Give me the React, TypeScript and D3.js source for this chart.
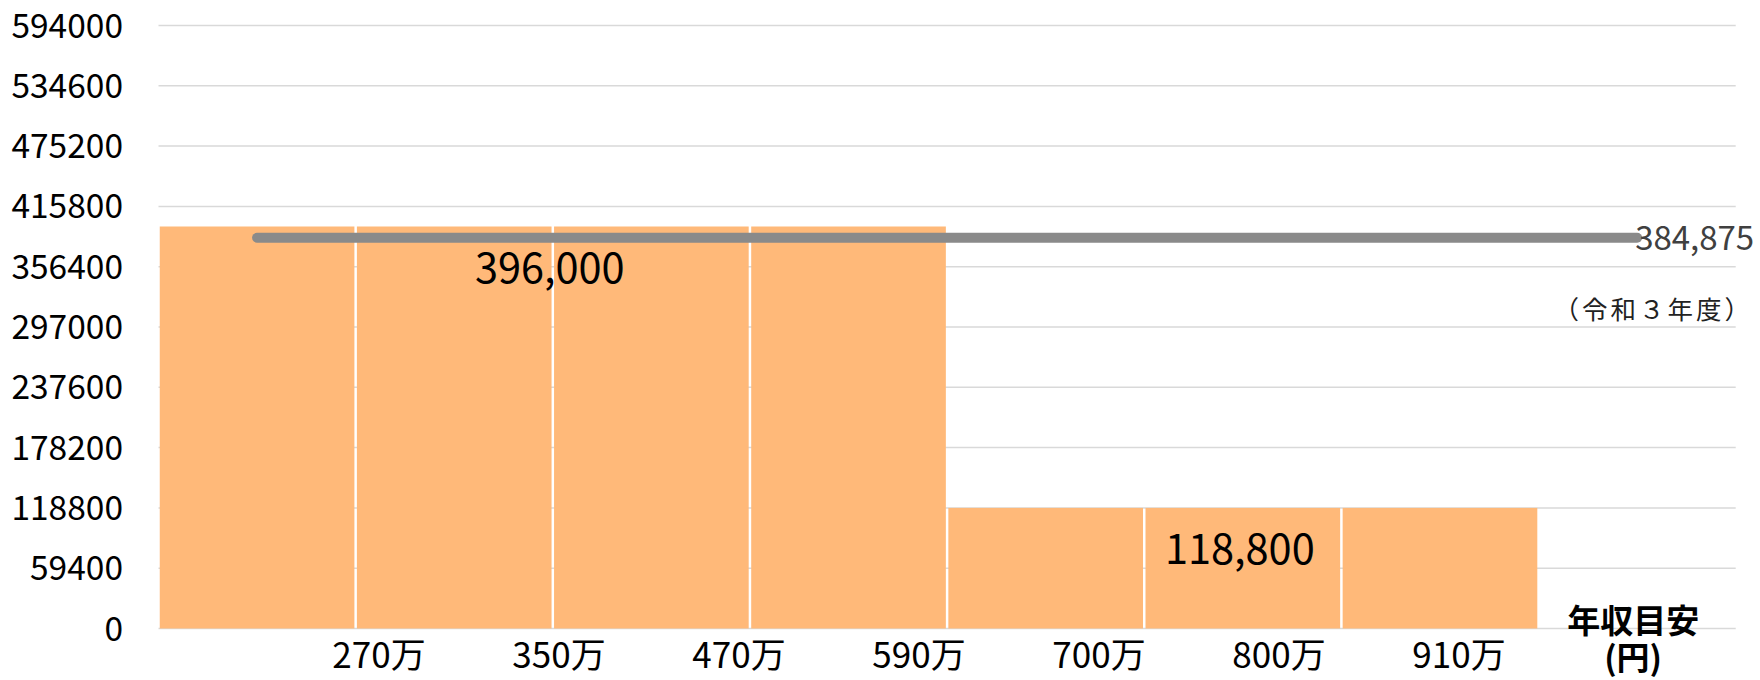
import React from 'react';
import * as d3 from 'd3';

// income brackets (bars) and the premium for each
const brackets = ['〜270万', '270〜350万', '350〜470万', '470〜590万', '590〜700万', '700〜800万', '800〜910万'];
const premiums = [396000, 396000, 396000, 396000, 118800, 118800, 118800];
const axisSlot = '年収目安';

// income ticks under the axis
const incomeTicks = ['270万', '350万', '470万', '590万', '700万', '800万', '910万'];

const yTicks = [0, 59400, 118800, 178200, 237600, 297000, 356400, 415800, 475200, 534600, 594000];

const averagePremium = 384875;
const averageNote = '（令和３年度）';

const W = 1760;
const H = 680;
const FONT = '"Noto Sans CJK JP", "Noto Sans", sans-serif';

const App: React.FC = () => {
  const x = d3.scaleBand<string>().domain([...brackets, axisSlot]).range([158.5, 1735.7]).padding(0);
  const y = d3.scaleLinear().domain([0, 594000]).range([628.5, 25.5]);
  const xTick = d3.scalePoint<string>().domain(incomeTicks).range([379, 1459]);
  const bw = x.bandwidth();
  const fmt = d3.format(',');

  // runs of equal premiums get one shared label
  const runs: { from: number; to: number; value: number }[] = [];
  premiums.forEach((v, i) => {
    const last = runs[runs.length - 1];
    if (last && last.value === v) last.to = i;
    else runs.push({ from: i, to: i, value: v });
  });

  const lineX1 = (x(brackets[0]) ?? 0) + bw / 2;
  const lineX2 = (x(axisSlot) ?? 0) + bw / 2;
  const slotX = (x(axisSlot) ?? 0) + bw / 2 - 4;

  return (
    <svg width={W} height={H} style={{ position: 'absolute', left: 0, top: 0, background: '#fff' }} fontFamily={FONT}>
      {/* grid */}
      {yTicks.map(t => (
        <line key={t} x1={158.5} x2={1735.7} y1={y(t)} y2={y(t)} stroke="#d9d9d9" strokeWidth={1.5} />
      ))}
      {yTicks.map(t => (
        <text key={'l' + t} x={123} y={y(t)} dy="0.36em" textAnchor="end" fontSize={33.5} fill="#000">
          {t}
        </text>
      ))}

      {/* bars */}
      {brackets.map((c, i) => (
        <rect key={c} x={(x(c) ?? 0) + 1.25} width={bw - 2.5} y={y(premiums[i])} height={y(0) - y(premiums[i])} fill="#ffb979" />
      ))}

      {runs.map(r => {
        const x0 = x(brackets[r.from]) ?? 0;
        const x1 = (x(brackets[r.to]) ?? 0) + bw;
        return (
          <text key={r.from} x={(x0 + x1) / 2 - 3} y={y(r.value) + 56} textAnchor="middle" fontSize={41.5} fill="#000">
            {fmt(r.value)}
          </text>
        );
      })}

      {/* average line */}
      <line x1={lineX1} x2={lineX2} y1={y(averagePremium)} y2={y(averagePremium)} stroke="#8a8a8a" strokeWidth={10} strokeLinecap="round" />
      <text x={lineX2 - 2} y={y(averagePremium)} dy="0.36em" fontSize={33} fill="#404040">
        {fmt(averagePremium)}
      </text>
      <text x={1753} y={y(averagePremium) + 72} dy="0.36em" textAnchor="end" fontSize={25.5} letterSpacing={3} fill="#222">
        {averageNote}
      </text>

      {/* income ticks */}
      {incomeTicks.map(t => (
        <text key={t} x={xTick(t)} y={668} textAnchor="middle" fontSize={35} fill="#000">
          {t}
        </text>
      ))}
      <text x={slotX} y={633} textAnchor="middle" fontSize={33} fontWeight="bold" fill="#000">
        {axisSlot}
      </text>
      <text x={slotX} y={670} textAnchor="middle" fontSize={33} fontWeight="bold" fill="#000">
        (円)
      </text>
    </svg>
  );
};

export default App;
